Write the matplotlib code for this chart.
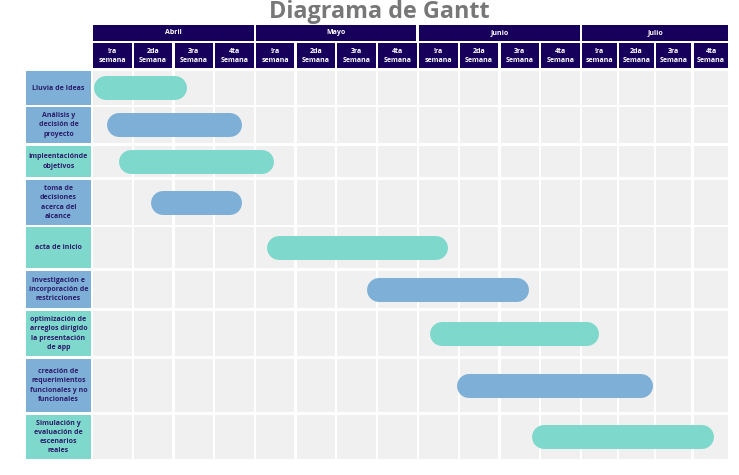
import numpy as np
import matplotlib
matplotlib.use("Agg")
import matplotlib.pyplot as plt
from matplotlib.patches import Rectangle

# ---- data ----
months = ["Abril", "Mayo", "Junio", "Julio"]
week_labels = ["!ra\nsemana", "2da\nSemana", "3ra\nSemana", "4ta\nSemana"]
tasks = [
    "Lluvia de Ideas",
    "Análisis y\ndecisión de\nproyecto",
    "impleentaciónde\nobjetivos",
    "toma de\ndecisiones\nacerca del\nalcance",
    "acta de inicio",
    "investigación e\nincorporación de\nrestricciones",
    "optimización de\narreglos dirigido\nla presentación\nde app",
    "creación de\nrequerimientos\nfuncionales y no\nfuncionales",
    "Simulación y\nevaluación de\nescenarios\nreales",
]
# start / end in weeks counted from 1st week of Abril
start_week = [0.0, 0.3, 0.6, 1.4, 4.25, 6.7, 8.25, 8.9, 10.75]
end_week = [2.3, 3.65, 4.45, 3.65, 8.7, 10.7, 12.45, 13.9, 15.55]

# ---- style / layout (pixels) ----
TEAL = "#7fd8cc"
BLUE = "#7dafd7"
NAVY = "#17005c"
CELL = "#f0f0f0"
TXT = "#2b1d6b"
label_colors = [BLUE, BLUE, TEAL, BLUE, TEAL, BLUE, TEAL, BLUE, TEAL]
bar_colors = [TEAL, BLUE, TEAL, BLUE, TEAL, BLUE, TEAL, BLUE, TEAL]

month_x0 = [93.3, 256.0, 419.3, 582.0]
week_pitch = [40.7, 40.7, 40.7, 37.2]
gap = 2.4
row_top = [71, 107, 146, 180, 227, 271, 311, 359, 415]
row_bot = [105, 143, 177, 225, 268, 308, 356, 412, 459]
label_x0, label_x1 = 26, 91
bar_h = 24  # px

edges = []
for m in range(4):
    for k in range(4):
        edges.append(month_x0[m] + k * week_pitch[m])
edges.append(month_x0[3] + 4 * week_pitch[3])
edges = np.array(edges)


def week_to_x(w):
    return np.interp(w, np.arange(len(edges)), edges)


plt.rcParams['font.family'] = ['Open Sans', 'DejaVu Sans']

fig = plt.figure(figsize=(7.39, 4.75), dpi=100)
ax = fig.add_axes([0, 0, 1, 1])
ax.set_xlim(0, 739)
ax.set_ylim(475, 0)
ax.axis("off")

ax.text(379, 17.5, "Diagrama de Gantt", ha="center", va="baseline",
        fontsize=16.8, fontweight="bold", color="#777777")

# month header
for m, name in enumerate(months):
    x0 = month_x0[m]
    x1 = month_x0[m] + 4 * week_pitch[m] - gap
    ax.add_patch(Rectangle((x0, 25.3), x1 - x0, 15.4, facecolor=NAVY, edgecolor="none"))
    ax.text((x0 + x1) / 2, 33, name, ha="center", va="center",
            fontsize=5, fontweight="bold", color="white")

# week header + grid
for i in range(16):
    x0 = edges[i]
    w = edges[i + 1] - edges[i] - gap
    ax.add_patch(Rectangle((x0, 43), w, 25.3, facecolor=NAVY, edgecolor="none"))
    ax.text(x0 + w / 2, 55.8, week_labels[i % 4], ha="center", va="center",
            fontsize=5, fontweight="bold", color="white", linespacing=1.35)
    for r in range(len(tasks)):
        ax.add_patch(Rectangle((x0, row_top[r]), w, row_bot[r] - row_top[r],
                               facecolor=CELL, edgecolor="none"))

# task labels and bars (pill shaped: thick line with round caps)
lw_pt = bar_h * 72 / fig.dpi
for r, task in enumerate(tasks):
    ax.add_patch(Rectangle((label_x0, row_top[r]), label_x1 - label_x0,
                           row_bot[r] - row_top[r], facecolor=label_colors[r], edgecolor="none"))
    yc = (row_top[r] + row_bot[r]) / 2
    ax.text((label_x0 + label_x1) / 2, yc, task, ha="center", va="center",
            fontsize=5, fontweight="bold", color=TXT, linespacing=1.45)
    xs = week_to_x(start_week[r]) + 1 + bar_h / 2
    xe = week_to_x(end_week[r]) - bar_h / 2
    ax.plot([xs, xe], [yc, yc], color=bar_colors[r], lw=lw_pt,
            solid_capstyle="round")

fig.savefig("out.png", dpi=100)
